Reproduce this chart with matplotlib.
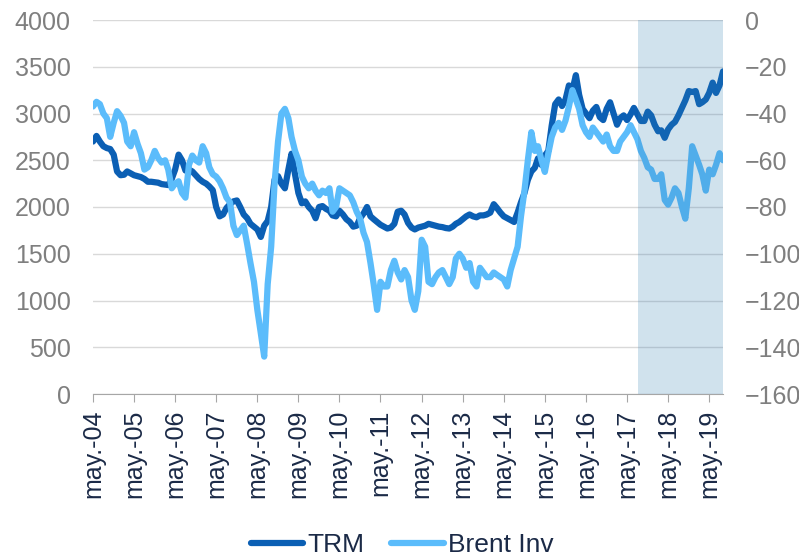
import matplotlib
matplotlib.use("Agg")
import matplotlib.pyplot as plt
import matplotlib.dates as mdates
import matplotlib.ticker as mticker
import pandas as pd

plt.rcParams['font.family'] = ['Liberation Sans', 'DejaVu Sans']

# monthly values, May 2004 .. Sep 2019
start = '2004-05-01'
trm = [2700, 2760, 2700, 2650, 2630, 2620, 2560, 2380,
       2340, 2345, 2380, 2360, 2340, 2330, 2320, 2300, 2270, 2270, 2265, 2260,
       2245, 2240, 2235, 2300, 2400, 2560, 2500, 2390, 2400, 2380, 2340, 2300,
       2270, 2250, 2220, 2180, 2000, 1900, 1920, 1990, 2030, 2060, 2070, 2000,
       1920, 1880, 1820, 1790, 1760, 1680, 1800, 1850, 2000, 2290, 2330, 2250,
       2200, 2400, 2570, 2350, 2150, 2040, 2060, 2000, 1960, 1880, 2000, 2010,
       1980, 1960, 1910, 1900, 1960, 1920, 1870, 1840, 1790, 1800, 1880, 1930,
       2000, 1900, 1870, 1840, 1810, 1790, 1770, 1780, 1820, 1950, 1960, 1920,
       1830, 1780, 1760, 1780, 1790, 1800, 1820, 1810, 1800, 1790, 1785, 1775,
       1770, 1790, 1820, 1840, 1870, 1900, 1920, 1900, 1890, 1910, 1910, 1920,
       1940, 2030, 1990, 1940, 1900, 1880, 1860, 1840, 1940, 2050, 2150, 2290,
       2380, 2420, 2520, 2450, 2550, 2600, 2870, 3100, 3150, 3080, 3150, 3300,
       3250, 3410, 3200, 3050, 3000, 2950, 3030, 3070, 2960, 2930, 3050, 3120,
       3000, 2880, 2950, 2980, 2930, 2990, 3060, 2990, 2920, 2920, 3020, 2980,
       2880, 2810, 2820, 2740, 2830, 2880, 2910, 2980, 3060, 3140, 3240, 3230,
       3240, 3100, 3120, 3150, 3220, 3330, 3220, 3300, 3450]
brent_inv = [-37, -35, -36, -40, -42, -50, -44, -39,
             -41, -44, -52, -54, -48, -53, -57, -64, -63, -60, -56, -59,
             -61, -60, -64, -72, -70, -69, -74, -76, -62, -58, -60, -61,
             -54, -57, -63, -66, -67, -69, -72, -76, -78, -88, -92, -90,
             -88, -96, -104, -112, -124, -134, -144, -113, -97, -70, -52, -40,
             -38, -42, -50, -56, -60, -67, -70, -72, -70, -73, -75, -73,
             -74, -72, -82, -80, -72, -73, -74, -75, -78, -82, -85, -91,
             -95, -104, -113, -124, -112, -114, -114, -107, -103, -108, -111, -107,
             -110, -120, -124, -116, -94, -97, -112, -113, -110, -108, -107, -110,
             -113, -110, -102, -100, -102, -106, -104, -112, -114, -106, -108, -110,
             -110, -108, -109, -110, -111, -114, -107, -102, -97, -84, -73, -60,
             -48, -56, -54, -60, -65, -57, -50, -46, -44, -47, -43, -37,
             -30, -34, -38, -45, -48, -50, -46, -48, -50, -52, -49, -54,
             -56, -56, -52, -50, -48, -45, -48, -51, -56, -59, -63, -64,
             -68, -68, -66, -77, -79, -76, -72, -74, -80, -85, -72, -54,
             -58, -62, -66, -73, -64, -66, -62, -57, -60]
shade_start = '2017-08-10'
labels = ['TRM', 'Brent Inv']

dates = pd.date_range(start, periods=len(trm), freq='MS')

dark = '#0b5fb4'
light = '#5bbcfb'
grey_txt = '#7f7f7f'
navy_txt = '#1b2a47'

fig = plt.figure(figsize=(7.99, 5.56), dpi=100)
ax = fig.add_axes([93 / 799, 1 - 394 / 556, 630 / 799, 374 / 556])
l1, = ax.plot(dates, trm, color=dark, lw=4.5, solid_joinstyle='round',
              solid_capstyle='round', label=labels[0])
ax.set_ylim(0, 4000)
ax.yaxis.set_major_locator(mticker.MultipleLocator(500))
ax.grid(axis='y', color='#d9d9d9', lw=1)
ax.set_axisbelow(True)
ax.set_xlim(dates[0], dates[-1])
ax.xaxis.set_major_locator(mdates.YearLocator(month=5))
ax.xaxis.set_major_formatter(mticker.FuncFormatter(
    lambda v, p: 'may.-' + mdates.num2date(v).strftime('%y')))

ax2 = ax.twinx()
l2, = ax2.plot(dates, brent_inv, color=light, lw=4.5, solid_joinstyle='round',
               solid_capstyle='round', label=labels[1])
ax2.set_ylim(-160, 0)
ax2.yaxis.set_major_locator(mticker.MultipleLocator(20))
ax2.axvspan(pd.Timestamp(shade_start), dates[-1], color='#2d7bb1',
            alpha=0.22, lw=0, zorder=5)

for a in (ax, ax2):
    for s in ('top', 'left', 'right'):
        a.spines[s].set_visible(False)
ax2.spines['bottom'].set_visible(False)
ax.spines['bottom'].set_color('#a6a6a6')

ax.tick_params(axis='x', length=6, color='#a6a6a6', labelrotation=90,
               labelsize=18, labelcolor=navy_txt, pad=5)
ax.tick_params(axis='y', length=0, labelsize=18, labelcolor=grey_txt, pad=16)
ax2.tick_params(axis='y', length=0, labelsize=18, labelcolor=grey_txt, pad=16)

fig.legend([l1, l2], labels, loc='center', bbox_to_anchor=(0.503, 0.02),
           ncol=2, frameon=False, fontsize=19, handlelength=2.0,
           handletextpad=0.15, columnspacing=1.0, labelcolor=navy_txt)

fig.savefig('out.png', dpi=100)
